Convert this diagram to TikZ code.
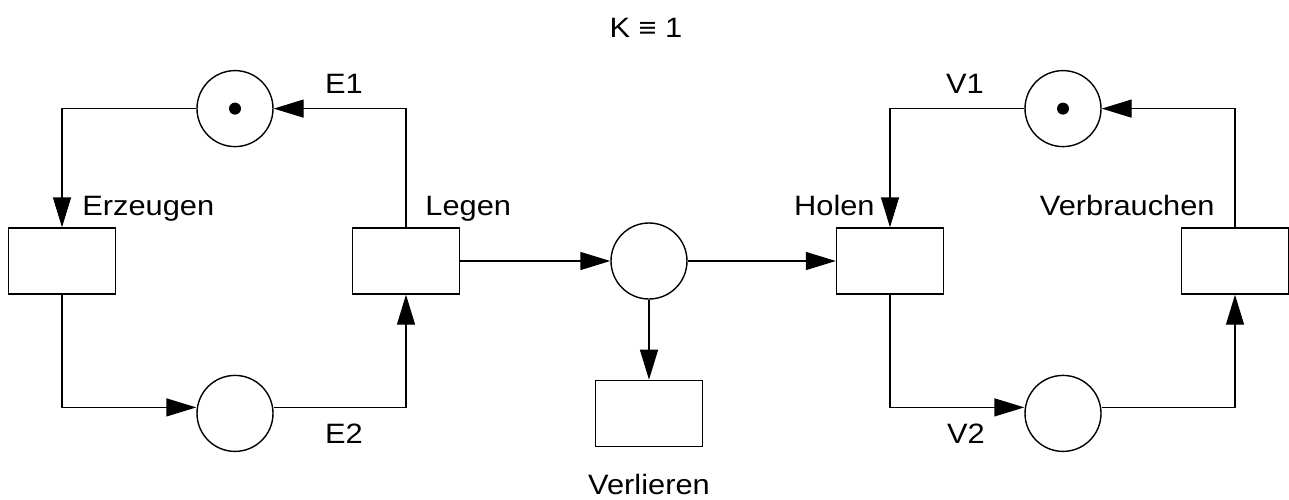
\documentclass[tikz,border=0pt]{standalone}
\usepackage{fontspec}
\setmainfont{Liberation Sans}[FakeStretch=1.1]
\usetikzlibrary{arrows.meta, positioning}

\begin{document}
\begin{tikzpicture}[
    x=0.5pt, y=-0.5pt,
    every node/.style={font=\fontsize{14}{16}\selectfont},
    place/.style={circle, draw, line width=0.7pt, minimum size=38pt, inner sep=0pt},
    trans/.style={rectangle, draw, line width=0.7pt, minimum width=53.5pt, minimum height=33pt, inner sep=0pt},
    token/.style={circle, fill, minimum size=6pt, inner sep=0pt},
    arc/.style={line width=0.7pt, -{Triangle[length=15pt, width=9pt]}},
    lbl/.style={anchor=base, inner sep=0pt}
]
\useasboundingbox (0,0) rectangle (1289,499);

% Transitions and buffer
\node[trans] (erz) at (62,261) {};
\node[trans] (leg) at (406,261) {};
\node[place] (buf) at (649,261) {};
\node[trans] (hol) at (890,261) {};
\node[trans] (verb) at (1235,261) {};
\node[trans, below=40pt of buf] (verl) {};

% Places
\node[place, above=40pt of erz, xshift=86.5pt] (e1) {};
\node[token] (te1) at (e1) {};
\node[place, below=40pt of erz, xshift=86.5pt] (e2) {};
\node[place, above=40pt of hol, xshift=86.5pt] (v1) {};
\node[token] (tv1) at (v1) {};
\node[place, below=40pt of hol, xshift=86.5pt] (v2) {};

% Labels
\node[lbl] (kap) at (646,37) {K ≡ 1};
\node[lbl, anchor=base west] (lerz) at (82,215) {Erzeugen};
\node[lbl, anchor=base west] (lleg) at (425,215) {Legen};
\node[lbl, anchor=base east] (lhol) at (875,215) {Holen};
\node[lbl, anchor=base east] (lverb) at (1215,215) {Verbrauchen};
\node[lbl] (le1) at (344,93) {E1};
\node[lbl] (le2) at (344,443) {E2};
\node[lbl] (lv1) at (965,93) {V1};
\node[lbl] (lv2) at (966,443) {V2};
\node[lbl] (lverl) at (649,494) {Verlieren};

% Arcs
\draw[arc] (leg) |- (e1);
\draw[arc] (e1) -| (erz);
\draw[arc] (erz) |- ([yshift=3pt]e2.west);
\draw[arc] ([yshift=3pt]e2.east) -| (leg);
\draw[arc] (leg) -- (buf);
\draw[arc] (buf) -- (hol);
\draw[arc] (buf) -- (verl);
\draw[arc] (v1) -| (hol);
\draw[arc] (verb) |- (v1);
\draw[arc] (hol) |- ([yshift=3pt]v2.west);
\draw[arc] ([yshift=3pt]v2.east) -| (verb);

\end{tikzpicture}
\end{document}
